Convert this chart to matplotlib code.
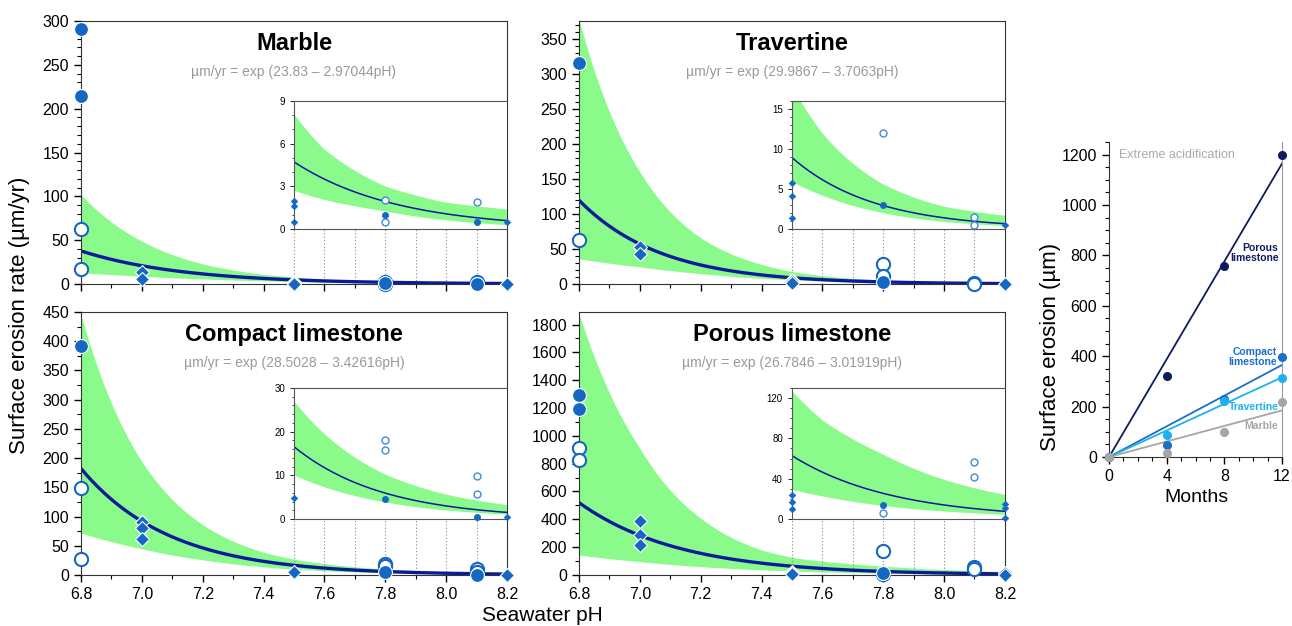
import numpy as np
import matplotlib
matplotlib.use('Agg')
import matplotlib.pyplot as plt
from matplotlib.ticker import MultipleLocator, FormatStrFormatter

plt.rcParams['font.family'] = ['Liberation Sans', 'DejaVu Sans']

# pH values where the confidence band edges were read
band_ph = [6.8, 7.0, 7.2, 7.4, 7.5, 7.6, 7.8, 8.0, 8.2]

# Marble
marble_a, marble_b = 23.83, 2.97044
marble_upper = [102, 49, 23, 11.1, 8.1, 5.6, 3.0, 1.85, 1.38]
marble_lower = [13, 8.9, 5.8, 3.6, 2.7, 2.05, 1.25, 0.62, 0.28]
marble_filled_ph = [6.8, 6.8, 7.8, 8.1]
marble_filled = [291, 215, 1.0, 0.5]
marble_open_ph = [6.8, 6.8, 7.8, 7.8, 8.1]
marble_open = [63, 17, 2.05, 0.5, 1.9]
marble_diam_ph = [7.0, 7.0, 7.5, 7.5, 7.5, 8.2]
marble_diam = [13.5, 5.5, 1.95, 1.6, 0.5, 0.5]

# Travertine
trav_a, trav_b = 29.9867, 3.7063
trav_upper = [378, 160, 66, 28, 18, 12, 5.6, 2.8, 1.67]
trav_lower = [36, 24.5, 14.9, 8.2, 5.9, 4.2, 2.0, 0.9, 0.39]
trav_filled_ph = [6.8, 7.8]
trav_filled = [315, 3.0]
trav_open_ph = [6.8, 7.8, 7.8, 8.1, 8.1]
trav_open = [63, 28, 12, 1.5, 0.5]
trav_diam_ph = [7.0, 7.0, 7.5, 7.5, 7.5, 8.2]
trav_diam = [53, 43, 5.7, 4.1, 1.4, 0.5]

# Compact limestone
comp_a, comp_b = 28.5028, 3.42616
comp_upper = [445, 194, 86, 39, 27, 19.5, 10.2, 5.6, 3.2]
comp_lower = [72, 45, 26, 14, 10, 7.3, 3.8, 1.95, 1.0]
comp_filled_ph = [6.8, 7.8, 8.1]
comp_filled = [392, 4.5, 0.5]
comp_open_ph = [6.8, 6.8, 7.8, 7.8, 8.1, 8.1]
comp_open = [148, 28, 18, 15.8, 9.8, 5.8]
comp_diam_ph = [7.0, 7.0, 7.0, 7.5, 8.2]
comp_diam = [91, 80, 61, 4.8, 0.5]

# Porous limestone
por_a, por_b = 26.7846, 3.01919
por_upper = [1880, 911, 408, 180, 127, 98, 64, 39, 24]
por_lower = [144, 96, 60, 37, 29, 22.5, 13, 7.4, 4.2]
por_filled_ph = [6.8, 6.8, 7.8]
por_filled = [1290, 1190, 14]
por_open_ph = [6.8, 6.8, 7.8, 7.8, 8.1, 8.1]
por_open = [911, 825, 170, 6, 57, 42]
por_diam_ph = [7.0, 7.0, 7.0, 7.5, 7.5, 7.5, 8.2, 8.2, 8.2]
por_diam = [391, 288, 218, 24, 17, 10, 15, 11, 1]

# right panel: cumulative erosion under extreme acidification
months = [0, 4, 8, 12]
porous_um = [0, 320, 757, 1200]
compact_um = [0, 49, 232, 397]
travertine_um = [0, 89, 222, 314]
marble_um = [0, 16, 98, 217]

blue = '#1468c4'
navy = '#0b1a9a'
green = '#8afb8a'

ph_grid = np.linspace(6.8, 8.2, 300)


def draw_panel(ax, name, a, b, upper, lower, f_ph, f_v, o_ph, o_v, d_ph, d_v,
               ytop, ymaj, ymin, ins_rect, ins_top, ins_maj, ins_min, xlabels):
    fit = np.exp(a - b * ph_grid)
    up = np.exp(np.interp(ph_grid, band_ph, np.log(upper)))
    lo = np.exp(np.interp(ph_grid, band_ph, np.log(lower)))

    ax.set_xlim(6.8, 8.2)
    ax.set_ylim(0, ytop)
    ax.fill_between(ph_grid, lo, up, color=green, lw=0, zorder=1)
    ax.plot(ph_grid, fit, color=navy, lw=2.4, zorder=2)
    ax.vlines(np.arange(7.5, 8.15, 0.1), 0, ins_rect[1], transform=ax.get_xaxis_transform(),
              colors='#888888', linestyles=(0, (1, 2)), lw=0.8, zorder=1.5)
    ax.plot(o_ph, o_v, 'o', ms=9.5, mfc='white', mec=blue, mew=1.5, ls='none', clip_on=False, zorder=3)
    ax.plot(f_ph, f_v, 'o', ms=10, mfc=blue, mec='white', mew=0.8, ls='none', clip_on=False, zorder=4)
    ax.plot(d_ph, d_v, 'D', ms=7.5, mfc=blue, mec='white', mew=0.8, ls='none', clip_on=False, zorder=4)

    ax.text(0.5, 0.915, name, transform=ax.transAxes, ha='center', va='center',
            fontsize=17, weight='bold')
    ax.text(0.5, 0.805, f'µm/yr = exp ({a} – {b}pH)', transform=ax.transAxes,
            ha='center', va='center', fontsize=10, color='#9a9a9a')

    ax.xaxis.set_major_locator(MultipleLocator(0.2))
    ax.xaxis.set_minor_locator(MultipleLocator(0.1))
    ax.xaxis.set_major_formatter(FormatStrFormatter('%.1f'))
    ax.yaxis.set_major_locator(MultipleLocator(ymaj))
    ax.yaxis.set_minor_locator(MultipleLocator(ymin))
    ax.tick_params(which='major', direction='out', length=5, width=1, labelsize=11.5)
    ax.tick_params(which='minor', direction='out', length=3, width=0.8)
    ax.tick_params(axis='x', labelbottom=xlabels)
    for s in ax.spines.values():
        s.set_color('#333333')

    # inset zoom on the high pH range
    ins = ax.inset_axes(ins_rect)
    ins.set_xlim(7.5, 8.2)
    ins.set_ylim(0, ins_top)
    ins.fill_between(ph_grid, lo, up, color=green, lw=0, zorder=1)
    ins.plot(ph_grid, fit, color=navy, lw=1.1, zorder=2)
    for ph, v, kw in [(o_ph, o_v, dict(marker='o', ms=5, mfc='white', mec='#3f8bd8', mew=1.0)),
                      (f_ph, f_v, dict(marker='o', ms=4.5, mfc=blue, mec=blue, mew=0.5)),
                      (d_ph, d_v, dict(marker='D', ms=3.3, mfc=blue, mec=blue, mew=0.5))]:
        ph = np.array(ph)
        v = np.array(v)
        keep = (ph >= 7.5) & (v <= ins_top)
        ins.plot(ph[keep], v[keep], ls='none', clip_on=False, zorder=3, **kw)
    ins.set_xticks([])
    ins.yaxis.set_major_locator(MultipleLocator(ins_maj))
    ins.yaxis.set_minor_locator(MultipleLocator(ins_min))
    ins.tick_params(which='major', direction='out', length=3, width=0.6, labelsize=7)
    ins.tick_params(which='minor', direction='out', length=1.5, width=0.5)
    ins.spines['right'].set_visible(False)
    for s in ['left', 'top', 'bottom']:
        ins.spines[s].set_color('#555555')
        ins.spines[s].set_linewidth(0.8)


fig = plt.figure(figsize=(12.92, 6.26), dpi=100)

ax_m = fig.add_axes([0.0627, 0.5463, 0.3297, 0.4201])
ax_t = fig.add_axes([0.4481, 0.5463, 0.3297, 0.4201])
ax_c = fig.add_axes([0.0627, 0.0815, 0.3297, 0.4201])
ax_p = fig.add_axes([0.4481, 0.0815, 0.3297, 0.4201])

top_inset = [0.5, 0.209, 0.5, 0.487]
bot_inset = [0.5, 0.213, 0.5, 0.498]

draw_panel(ax_m, 'Marble', marble_a, marble_b, marble_upper, marble_lower,
           marble_filled_ph, marble_filled, marble_open_ph, marble_open, marble_diam_ph, marble_diam,
           300, 50, 10, top_inset, 9, 3, 1, False)
draw_panel(ax_t, 'Travertine', trav_a, trav_b, trav_upper, trav_lower,
           trav_filled_ph, trav_filled, trav_open_ph, trav_open, trav_diam_ph, trav_diam,
           375, 50, 10, top_inset, 16, 5, 1, False)
draw_panel(ax_c, 'Compact limestone', comp_a, comp_b, comp_upper, comp_lower,
           comp_filled_ph, comp_filled, comp_open_ph, comp_open, comp_diam_ph, comp_diam,
           450, 50, 25, bot_inset, 30, 10, 2, True)
draw_panel(ax_p, 'Porous limestone', por_a, por_b, por_upper, por_lower,
           por_filled_ph, por_filled, por_open_ph, por_open, por_diam_ph, por_diam,
           1890, 200, 100, bot_inset, 130, 40, 10, True)

fig.text(0.015, 0.497, 'Surface erosion rate (µm/yr)', rotation=90, ha='center', va='center', fontsize=16)
fig.text(0.42, 0.016, 'Seawater pH', ha='center', va='center', fontsize=15)

# right panel
ax_r = fig.add_axes([0.8584, 0.2700, 0.1339, 0.5032])
months_arr = np.array(months, dtype=float)
series = [(porous_um, '#0e1c5e', 'Porous\nlimestone', 11.75, 810),
          (compact_um, '#1a6fc9', 'Compact\nlimestone', 11.65, 397),
          (travertine_um, '#1db2ee', 'Travertine', 11.8, 198),
          (marble_um, '#a6a6a6', 'Marble', 11.75, 123)]
for vals, col, lab, lx, ly in series:
    vals = np.array(vals, dtype=float)
    slope = np.sum(months_arr * vals) / np.sum(months_arr ** 2)
    ax_r.plot([0, 12], [0, slope * 12], color=col, lw=1.3, zorder=2)
    ax_r.plot(months_arr, vals, 'o', color=col, ms=5.5, ls='none', clip_on=False, zorder=3)
    ax_r.text(lx, ly, lab, color=col, fontsize=7.5, weight='bold', ha='right', va='center',
              linespacing=1.05)
ax_r.text(0.7, 1198, 'Extreme acidification', color='#aaaaaa', fontsize=9, ha='left', va='center')
ax_r.set_xlim(0, 12)
ax_r.set_ylim(0, 1250)
ax_r.set_xticks([0, 4, 8, 12])
ax_r.xaxis.set_minor_locator(MultipleLocator(1))
ax_r.yaxis.set_major_locator(MultipleLocator(200))
ax_r.yaxis.set_minor_locator(MultipleLocator(50))
ax_r.tick_params(which='major', direction='out', length=5, width=1, labelsize=11.5)
ax_r.tick_params(which='minor', direction='out', length=3, width=0.8)
ax_r.spines['top'].set_visible(False)
ax_r.spines['right'].set_color('#999999')
ax_r.spines['left'].set_color('#333333')
ax_r.spines['bottom'].set_color('#333333')
fig.text(0.813, 0.446, 'Surface erosion (µm)', rotation=90, ha='center', va='center', fontsize=16)
fig.text(0.926, 0.206, 'Months', ha='center', va='center', fontsize=14)

fig.savefig('out.png', dpi=100)
